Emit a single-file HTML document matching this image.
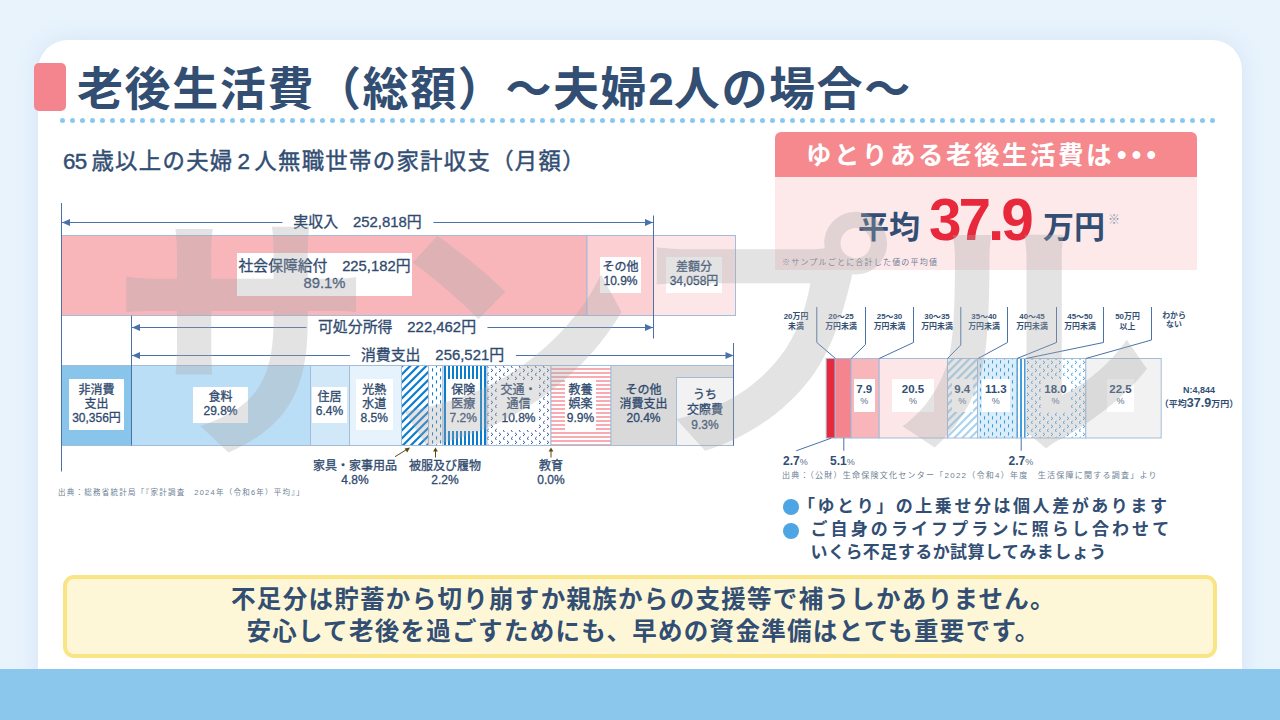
<!DOCTYPE html>
<html lang="ja">
<head>
<meta charset="utf-8">
<title>老後生活費（総額）〜夫婦2人の場合〜</title>
<style>
html,body{margin:0;padding:0}
body{width:1280px;height:720px;position:relative;overflow:hidden;background:#e8f3fc;font-family:"Liberation Sans","Noto Sans CJK JP",sans-serif;color:#2f4a6e}
.card{position:absolute;left:38px;top:40px;width:1204px;height:700px;background:#fff;border-radius:30px;box-shadow:0 0 22px rgba(120,165,215,.17)}
.band{position:absolute;left:0;top:669px;width:1280px;height:51px;background:#8bc7ec}
.accent{position:absolute;left:34px;top:63px;width:32px;height:48px;border-radius:5px;background:#f4858e}
.t{position:absolute;white-space:nowrap;line-height:1;margin:0}
.c{transform:translateX(-50%);text-align:center}
.title{left:77px;top:65.5px;font-size:46px;letter-spacing:1.6px;font-weight:bold;color:#324e73}
.sub{left:63px;top:150.8px;font-size:22.4px;color:#324e73;letter-spacing:1.3px}
.sub span{letter-spacing:-.75px;margin-right:5px}
svg{position:absolute;left:0;top:0}
.lb{position:absolute;box-sizing:border-box;padding-bottom:2px;background:#fff;text-align:center;font-size:12px;line-height:14px;color:#2f4a6e;white-space:nowrap;display:flex;align-items:center;justify-content:center}
.big{font-size:14.8px;line-height:17px;padding-bottom:0}
.al{font-size:14.9px;background:#fff;padding:0 11.5px}
.src{font-size:7.5px;color:#6d7f96;letter-spacing:1.25px}
.rl{position:absolute;top:312.3px;transform:translateX(-50%);text-align:center;font-size:7.9px;line-height:9.8px;font-weight:bold;color:#324e73;white-space:nowrap}
.rv{position:absolute;top:379px;height:33px;background:#fff;text-align:center;color:#324e73;white-space:nowrap}
.rv b{display:block;font-size:11.5px;line-height:12px;margin-top:4px;font-weight:bold}
.rv i,.rp i{font-style:normal;font-size:9px;color:#5a6f8c;font-weight:normal}
.rv i{display:block;line-height:12px;margin-top:.3px}
.rp{font-size:12px;font-weight:bold;color:#324e73}
.bl{font-size:17px;font-weight:bold;color:#324e73;letter-spacing:2.55px}
.yl{font-size:24.5px;font-weight:bold;color:#324e73;letter-spacing:1.3px}
.sub{-webkit-text-stroke:.45px #324e73}
.lb,.al{-webkit-text-stroke:.3px #2f4a6e}
</style>
</head>
<body>
<div class="card"></div>
<div class="accent"></div>
<h1 class="t title">老後生活費（総額）〜夫婦<span style="letter-spacing:0">2</span>人の場合〜</h1>
<div class="t sub"><span>65</span>歳以上の夫婦<span style="margin-left:4px">2</span>人無職世帯の家計収支（月額）</div>

<!-- graphics layer -->
<svg id="gfx" width="1280" height="720" viewBox="0 0 1280 720">
<defs>
<pattern id="pHatch" width="8" height="8" patternUnits="userSpaceOnUse"><rect width="8" height="8" fill="#fff"/><path d="M-1,9.2L9.2,-1M7.2,9L9,7.2M-1,1.2L1.2,-1" stroke="#0b7dcf" stroke-width="2.2"/></pattern>
<pattern id="pHatchL" width="8" height="8" patternUnits="userSpaceOnUse"><rect width="8" height="8" fill="#fff"/><path d="M-1,9.2L9.2,-1M7.2,9L9,7.2M-1,1.2L1.2,-1" stroke="#a9d4f1" stroke-width="2.2"/></pattern>
<pattern id="pDash" width="8" height="8" patternUnits="userSpaceOnUse"><rect width="8" height="8" fill="#fff"/><path d="M.5,.2V3.6M4.5,4.2V7.6" stroke="#0b7dcf" stroke-width="1.1"/></pattern>
<pattern id="pDashL" width="8" height="8" patternUnits="userSpaceOnUse"><rect width="8" height="8" fill="#dcedfa"/><path d="M.5,.2V3.6M4.5,4.2V7.6" stroke="#3a9de0" stroke-width="1.1"/></pattern>
<pattern id="pVert" width="4" height="8" patternUnits="userSpaceOnUse"><rect width="4" height="8" fill="#fff"/><rect width="2" height="8" fill="#0b7dcf"/></pattern>
<pattern id="pVertL" width="4" height="8" patternUnits="userSpaceOnUse"><rect width="4" height="8" fill="#fff"/><rect width="2" height="8" fill="#3d9fe2"/></pattern>
<pattern id="pChev" width="8" height="8" patternUnits="userSpaceOnUse"><rect width="8" height="8" fill="#fff"/><path d="M3,.8L4.8,2.4L3,4M8.8,4.9L7,6.5L8.8,8.1M.8,4.9L-1,6.5L.8,8.1" stroke="#2a5599" stroke-width="1" fill="none"/></pattern>
<pattern id="pChevL" width="8" height="8" patternUnits="userSpaceOnUse"><rect width="8" height="8" fill="#fff"/><path d="M3,.8L4.8,2.4L3,4M8.8,4.9L7,6.5L8.8,8.1M.8,4.9L-1,6.5L.8,8.1" stroke="#3a9de0" stroke-width="1" fill="none"/></pattern>
<pattern id="pHor" width="8" height="4" patternUnits="userSpaceOnUse"><rect width="8" height="4" fill="#fff"/><rect width="8" height="2" fill="#f8abb2"/></pattern>
</defs>

<!-- dotted rule under title -->
<line x1="62.5" y1="120.5" x2="1216" y2="120.5" stroke="#8cc8ee" stroke-width="5" stroke-linecap="round" stroke-dasharray="0 10"/>

<!-- LEFT CHART : income bar -->
<g stroke="#a3bcd9" stroke-width="1">
<rect x="61.5" y="235.5" width="525.5" height="80" fill="#f8b6bb"/>
<rect x="587" y="235.5" width="66.5" height="80" fill="#fccfd2"/>
<rect x="653.5" y="235.5" width="82" height="80" fill="#fde6e8"/>
</g>
<!-- expenditure bar -->
<g stroke="#a3bcd9" stroke-width="1">
<rect x="61.5" y="365.5" width="70" height="80" fill="#89c4ea"/>
<rect x="131.5" y="365.5" width="179" height="80" fill="#badef5"/>
<rect x="310.5" y="365.5" width="39" height="80" fill="#d0e8f8"/>
<rect x="349.5" y="365.5" width="52" height="80" fill="#e6f3fc"/>
<rect x="401.5" y="365.5" width="27" height="80" fill="url(#pHatch)"/>
<rect x="428.5" y="365.5" width="14.5" height="80" fill="url(#pDash)"/>
<rect x="443" y="365.5" width="44" height="80" fill="url(#pVert)"/>
<rect x="487" y="365.5" width="64" height="80" fill="url(#pChev)"/>
<rect x="551" y="365.5" width="60" height="80" fill="url(#pHor)"/>
<rect x="611" y="365.5" width="122.5" height="80" fill="#d9d9d9"/>
<rect x="676.5" y="377.5" width="57" height="68" fill="#f2f2f2"/>
</g>
<!-- dimension lines -->
<g stroke="#4a72a8" stroke-width="1" fill="none">
<path d="M61.5,203V471.5 M131.5,315.5V445.5 M653.5,215.5V338.5 M733.5,343V445.5"/>
<path d="M62,222.5H653 M132,327.5H653 M132,355.5H733.5"/>
</g>
<g fill="#4a72a8">
<path d="M62,222.5l8,-3.6v7.2z M653,222.5l-8,-3.6v7.2z"/>
<path d="M132,327.5l8,-3.6v7.2z M653,327.5l-8,-3.6v7.2z"/>
<path d="M132,355.5l8,-3.6v7.2z M733.5,355.5l-8,-3.6v7.2z"/>
</g>
<!-- small arrows under the bar -->
<g stroke="#5a4a10" stroke-width="1" fill="#5a4a10">
<path d="M395,456.7L407,449.3" fill="none"/><path d="M410,447.5l-5.4,1l2.6,4z" stroke="none"/>
<path d="M435.5,457.5V451" fill="none"/><path d="M435.5,447.5l-2.4,4h4.8z" stroke="none"/>
<path d="M551,457.5V451" fill="none"/><path d="M551,447.5l-2.4,4h4.8z" stroke="none"/>
</g>
</svg>

<!-- LEFT CHART : text -->
<div class="t c al" style="left:357.5px;top:215px">実収入　252,818円</div>
<div class="t c al" style="left:397px;top:320px">可処分所得　222,462円</div>
<div class="t c al" style="left:432.5px;top:348px">消費支出　256,521円</div>

<div class="lb big" style="left:237px;top:253px;width:175px;height:43px">社会保障給付　225,182円<br>89.1%</div>
<div class="lb" style="left:600px;top:257px;width:41px;height:36px">その他<br>10.9%</div>
<div class="lb" style="left:666px;top:257px;width:56px;height:36px">差額分<br>34,058円</div>

<div class="lb" style="left:69px;top:379px;width:55px;height:51px">非消費<br>支出<br>30,356円</div>
<div class="lb" style="left:193px;top:387px;width:55px;height:36px">食料<br>29.8%</div>
<div class="lb" style="left:312px;top:387px;width:35px;height:36px">住居<br>6.4%</div>
<div class="lb" style="left:355.5px;top:379px;width:37.5px;height:51px">光熱<br>水道<br>8.5%</div>
<div class="lb" style="left:446.5px;top:379px;width:33.5px;height:52px">保険<br>医療<br>7.2%</div>
<div class="lb" style="left:499px;top:380px;width:39px;height:50px">交通・<br>通信<br>10.8%</div>
<div class="lb" style="left:565px;top:380px;width:31px;height:50px">教養<br>娯楽<br>9.9%</div>
<div class="lb" style="left:611.5px;top:380px;width:64px;height:50px;background:none">その他<br>消費支出<br>20.4%</div>
<div class="lb" style="left:677px;top:383px;width:56px;height:56px;background:none;line-height:15px">うち<br>交際費<br>9.3%</div>

<div class="lb" style="left:305px;top:459.8px;width:100px;height:28px;background:none">家具・家事用品<br>4.8%</div>
<div class="lb" style="left:395px;top:459.8px;width:100px;height:28px;background:none">被服及び履物<br>2.2%</div>
<div class="lb" style="left:501px;top:459.8px;width:100px;height:28px;background:none">教育<br>0.0%</div>

<div class="t src" style="left:58px;top:489px">出典：総務省統計局「『家計調査　2024年（令和6年）平均』」</div>

<!-- RIGHT PANEL -->
<div style="position:absolute;left:775px;top:132px;width:422px;height:45px;background:#f5898e;border-radius:6px 6px 0 0"></div>
<div style="position:absolute;left:775px;top:177px;width:422px;height:93px;background:#fde8ea"></div>
<div class="t" style="left:806px;top:142px;font-size:25.5px;font-weight:bold;color:#fff;letter-spacing:2.5px">ゆとりある老後生活費は<span style="font-size:27px;letter-spacing:5.3px;margin-left:2.9px;position:relative;top:.3px">•••</span></div>
<div class="t" style="left:858px;top:211.5px;font-size:31px;font-weight:bold;color:#324e73">平均</div>
<div class="t" style="left:929px;top:190.5px;font-size:58.5px;font-weight:bold;color:#e8293b;letter-spacing:-3px">37.9</div>
<div class="t" style="left:1043px;top:211.5px;font-size:31px;font-weight:bold;color:#324e73">万円</div>
<div class="t" style="left:1108px;top:214px;font-size:12px;color:#8a9ab0">※</div>
<div class="t src" style="left:782px;top:259px;font-size:8px;letter-spacing:1.2px">※サンプルごとに合計した値の平均値</div>

<svg width="1280" height="720" viewBox="0 0 1280 720">
<g stroke="#a3bcd9" stroke-width="1">
<rect x="826.2" y="358.5" width="9" height="79.5" fill="#e8293b"/>
<rect x="835.2" y="358.5" width="16" height="79.5" fill="#f4858e"/>
<rect x="851.2" y="358.5" width="28" height="79.5" fill="#f8b6bb"/>
<rect x="879.2" y="358.5" width="68.3" height="79.5" fill="#fde6e8"/>
<rect x="947.5" y="358.5" width="30" height="79.5" fill="url(#pHatchL)"/>
<rect x="977.5" y="358.5" width="39.3" height="79.5" fill="url(#pDashL)"/>
<rect x="1016.8" y="358.5" width="8.8" height="79.5" fill="url(#pVertL)"/>
<rect x="1025.6" y="358.5" width="60.2" height="79.5" fill="url(#pChevL)"/>
<rect x="1085.8" y="358.5" width="75.4" height="79.5" fill="#f2f2f2"/>
</g>
<g stroke="#4a72a8" stroke-width="1" fill="none">
<path d="M816.8,307V342.5L835.5,358.5"/>
<path d="M865.5,307V344.5L851.2,358.5"/>
<path d="M913.5,307V342.5L879.2,358.5"/>
<path d="M960.8,307V345L947.5,358.5"/>
<path d="M1007.5,307V342.5L978,358.5"/>
<path d="M1056.5,307V342.5L1017,358.5"/>
<path d="M1103.5,307V342.5L1026,358.5"/>
<path d="M1151.5,307V340L1085.8,358.5"/>
<path d="M796.2,450.8L831.2,438.2 M843.8,438V450.8 M1021.2,438V450.8"/>
</g>
</svg>
<div class="rl" style="left:796px">20万円<br>未満</div>
<div class="rl" style="left:841px">20〜25<br>万円未満</div>
<div class="rl" style="left:889.5px">25〜30<br>万円未満</div>
<div class="rl" style="left:937px">30〜35<br>万円未満</div>
<div class="rl" style="left:984px">35〜40<br>万円未満</div>
<div class="rl" style="left:1032px">40〜45<br>万円未満</div>
<div class="rl" style="left:1080px">45〜50<br>万円未満</div>
<div class="rl" style="left:1127.5px">50万円<br>以上</div>
<div class="rl" style="left:1174px;top:310.5px">わから<br>ない</div>

<div class="rv" style="left:854px;width:20.5px"><b>7.9</b><i>%</i></div>
<div class="rv" style="left:892px;width:42px"><b>20.5</b><i>%</i></div>
<div class="rv" style="left:951.5px;width:21.5px"><b>9.4</b><i>%</i></div>
<div class="rv" style="left:982px;width:27.5px"><b>11.3</b><i>%</i></div>
<div class="rv" style="left:1041px;width:29px"><b>18.0</b><i>%</i></div>
<div class="rv" style="left:1107px;width:27px"><b>22.5</b><i>%</i></div>

<div class="t rp" style="left:783px;top:455.2px">2.7<i>%</i></div>
<div class="t rp" style="left:830px;top:455.2px">5.1<i>%</i></div>
<div class="t rp" style="left:1008.5px;top:455.2px">2.7<i>%</i></div>

<div class="t c" style="left:1199px;top:385.5px;font-size:9px;font-weight:bold;color:#324e73">N:4,844</div>
<div class="t c" style="left:1199px;top:396.5px;font-size:9px;font-weight:bold;color:#324e73">（平均<span style="font-size:12.5px">37.9</span>万円）</div>
<div class="t src" style="left:782px;top:472px;font-size:8px;letter-spacing:1.25px">出典：（公財）生命保険文化センター「2022（令和4）年度　生活保障に関する調査」より</div>

<div style="position:absolute;left:782.5px;top:499px;width:16px;height:16px;border-radius:50%;background:#4da6e3"></div>
<div style="position:absolute;left:782.5px;top:522.5px;width:16px;height:16px;border-radius:50%;background:#4da6e3"></div>
<div class="t bl" style="left:798px;top:498.3px">「ゆとり」の上乗せ分は個人差があります</div>
<div class="t bl" style="left:810.5px;top:521.4px;letter-spacing:3.1px">ご自身のライフプランに照らし合わせて</div>
<div class="t bl" style="left:810.5px;top:543.8px;letter-spacing:.45px">いくら不足するか試算してみましょう</div>

<!-- BOTTOM CALLOUT -->
<div style="position:absolute;left:63px;top:575px;width:1146px;height:75px;border:4px solid #f9e585;border-radius:11px;background:#fdf7d8"></div>
<div class="t c yl" style="left:643.5px;top:588.3px">不足分は貯蓄から切り崩すか親族からの支援等で補うしかありません。</div>
<div class="t c yl" style="left:643.5px;top:619.6px">安心して老後を過ごすためにも、早めの資金準備はとても重要です。</div>

<!--WM0--><svg id="wm" width="1280" height="720" viewBox="0 0 1280 720" role="img" aria-label="サンプル"><title>サンプル</title><g opacity=".32"><text x="111" y="436" font-size="263" font-weight="bold" fill="#a9a9a9" font-family="&quot;Liberation Sans&quot;,&quot;Noto Sans CJK JP&quot;,sans-serif">サンプル</text></g></svg><!--WM1-->
<div class="band"></div>
</body>
</html>
